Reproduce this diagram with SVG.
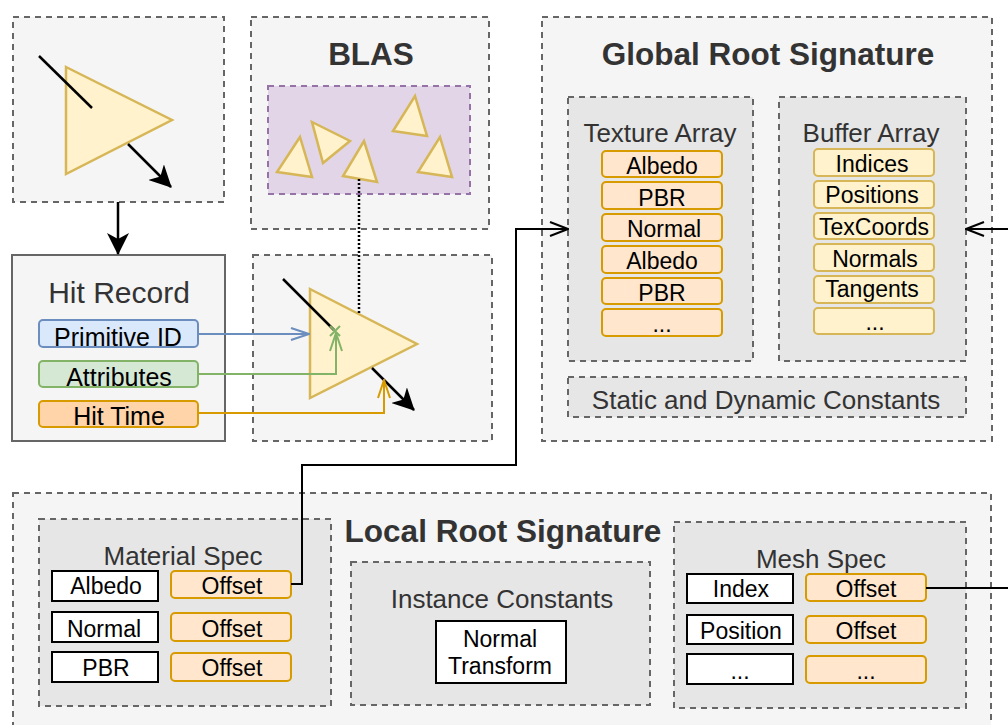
<svg xmlns="http://www.w3.org/2000/svg" width="1008" height="725" viewBox="0 0 1008 725">
<defs>
<style>
text{font-family:"Liberation Sans",Arial,Helvetica,sans-serif;text-anchor:middle}
.box{fill:#f5f5f5;stroke:#666;stroke-width:2;stroke-dasharray:6 5}
.sub{fill:#e6e6e6;stroke:#666;stroke-width:2;stroke-dasharray:6 5}
.ttl{font-weight:bold;font-size:31.5px;fill:#333}
.st{font-size:26px;fill:#333}
.it{font-size:23px;fill:#000}
.hit{font-size:25px;fill:#000}
.tri{fill:#fff2cc;stroke:#d6b656;stroke-width:2.5;stroke-linejoin:miter}
.tex{fill:#ffe6cc;stroke:#d79b00;stroke-width:2}
.buf{fill:#fff2cc;stroke:#d6b656;stroke-width:2}
.wht{fill:#fff;stroke:#000;stroke-width:2}
.ln{fill:none;stroke:#000;stroke-width:2}
.ray{fill:none;stroke:#000;stroke-width:2.5}
</style>
<marker id="classic" viewBox="0 0 22 22" refX="21" refY="11" markerWidth="22" markerHeight="22" orient="auto" markerUnits="userSpaceOnUse">
<path d="M0,0 L22,11 L0,22 L6,11 Z" fill="#000"/>
</marker>
<marker id="openK" viewBox="0 0 20 16" refX="19" refY="8" markerWidth="20" markerHeight="16" orient="auto" markerUnits="userSpaceOnUse">
<path d="M1,1 L19,8 L1,15" fill="none" stroke="#000" stroke-width="2"/>
</marker>
<marker id="openB" viewBox="0 0 20 14" refX="19" refY="7" markerWidth="20" markerHeight="14" orient="auto" markerUnits="userSpaceOnUse">
<path d="M1,1 L19,7 L1,13" fill="none" stroke="#6c8ebf" stroke-width="2"/>
</marker>
<marker id="openG" viewBox="0 0 20 14" refX="19" refY="7" markerWidth="20" markerHeight="14" orient="auto" markerUnits="userSpaceOnUse">
<path d="M1,1 L19,7 L1,13" fill="none" stroke="#82b366" stroke-width="2"/>
</marker>
<marker id="openO" viewBox="0 0 20 14" refX="19" refY="7" markerWidth="20" markerHeight="14" orient="auto" markerUnits="userSpaceOnUse">
<path d="M1,1 L19,7 L1,13" fill="none" stroke="#d79b00" stroke-width="2"/>
</marker>
</defs>
<rect width="1008" height="725" fill="#fff"/>

<g id="ray-box">
<rect class="box" x="13" y="17" width="211" height="185"/>
<polygon class="tri" points="66,67 172,120 66,174"/>
<line class="ray" x1="39" y1="56" x2="92" y2="108"/>
<line class="ray" x1="128" y1="144" x2="171" y2="187" marker-end="url(#classic)"/>
</g>

<g id="blas">
<rect class="box" x="251" y="17" width="238" height="212"/>
<text class="ttl" x="371" y="65">BLAS</text>
<rect x="268" y="86" width="202" height="108" fill="#e1d5e7" stroke="#9673a6" stroke-width="2" stroke-dasharray="6 5"/>
<polygon class="tri" points="300,137 312,177 277,172"/>
<polygon class="tri" points="312,122 350,141 323,163"/>
<polygon class="tri" points="364,141 377,182 343,176"/>
<polygon class="tri" points="415,96 427,136 393,131"/>
<polygon class="tri" points="440,137 452,177 418,172"/>
</g>

<g id="hit-record">
<rect x="12" y="255" width="213" height="186" fill="#f5f5f5" stroke="#666" stroke-width="2"/>
<text x="119" y="303" style="font-size:30px;fill:#333">Hit Record</text>
<rect x="39" y="320" width="159" height="27" rx="4" fill="#dae8fc" stroke="#6c8ebf" stroke-width="2"/>
<text class="hit" x="118" y="346">Primitive ID</text>
<rect x="39" y="361" width="159" height="26" rx="4" fill="#d5e8d4" stroke="#82b366" stroke-width="2"/>
<text class="hit" x="119" y="386">Attributes</text>
<rect x="39" y="401" width="159" height="26" rx="4" fill="#ffd4a8" stroke="#d79b00" stroke-width="2"/>
<text class="hit" x="119" y="425">Hit Time</text>
</g>

<g id="hit-box">
<rect class="box" x="253" y="255" width="239" height="186"/>
<polygon class="tri" points="310,289 417,344 310,398"/>
<line class="ray" x1="283" y1="279" x2="334" y2="330"/>
<line class="ray" x1="372" y1="368" x2="414" y2="410" marker-end="url(#classic)"/>
<path d="M330,326 L340,336 M340,326 L330,336" stroke="#82b366" stroke-width="2" fill="none"/>
</g>

<g id="global-root-signature">
<rect class="box" x="542" y="17" width="450" height="424"/>
<text class="ttl" x="768" y="65">Global Root Signature</text>
<g id="texture-array">
<rect class="sub" x="568" y="97" width="185" height="264"/>
<text class="st" x="660" y="142">Texture Array</text>
<rect class="tex" x="602" y="151" width="120" height="26" rx="4"/><text class="it" x="662" y="174">Albedo</text>
<rect class="tex" x="602" y="182" width="120" height="27" rx="4"/><text class="it" x="662" y="206">PBR</text>
<rect class="tex" x="602" y="214" width="120" height="27" rx="4"/><text class="it" x="664" y="237">Normal</text>
<rect class="tex" x="602" y="246" width="120" height="27" rx="4"/><text class="it" x="662" y="269">Albedo</text>
<rect class="tex" x="602" y="278" width="120" height="26" rx="4"/><text class="it" x="662" y="301">PBR</text>
<rect class="tex" x="602" y="309" width="120" height="27" rx="4"/><text class="it" x="662" y="332">...</text>
</g>
<g id="buffer-array">
<rect class="sub" x="779" y="97" width="187" height="264"/>
<text class="st" x="871" y="142">Buffer Array</text>
<rect class="buf" x="814" y="149" width="120" height="27" rx="4"/><text class="it" x="872" y="172">Indices</text>
<rect class="buf" x="814" y="181" width="120" height="27" rx="4"/><text class="it" x="872" y="203">Positions</text>
<rect class="buf" x="814" y="213" width="120" height="26" rx="4"/><text class="it" x="874" y="235">TexCoords</text>
<rect class="buf" x="814" y="244" width="120" height="27" rx="4"/><text class="it" x="875" y="267">Normals</text>
<rect class="buf" x="814" y="276" width="120" height="27" rx="4"/><text class="it" x="872" y="297">Tangents</text>
<rect class="buf" x="814" y="308" width="120" height="26" rx="4"/><text class="it" x="875" y="330">...</text>
</g>
<g id="static-constants">
<rect class="sub" x="568" y="377" width="398" height="40"/>
<text class="st" x="766" y="409">Static and Dynamic Constants</text>
</g>
</g>

<g id="local-root-signature">
<rect class="box" x="13" y="493" width="978" height="245"/>
<text class="ttl" x="503" y="542">Local Root Signature</text>
<g id="material-spec">
<rect class="sub" x="39" y="519" width="292" height="187"/>
<text class="st" x="183" y="565">Material Spec</text>
<rect class="wht" x="52" y="571" width="106" height="30"/><text class="it" x="106" y="594">Albedo</text>
<rect class="wht" x="52" y="612" width="106" height="30"/><text class="it" x="104" y="637">Normal</text>
<rect class="wht" x="52" y="652" width="106" height="30"/><text class="it" x="106" y="676">PBR</text>
<rect class="tex" x="171" y="571" width="120" height="27" rx="4"/><text class="it" x="232" y="594">Offset</text>
<rect class="tex" x="171" y="613" width="120" height="28" rx="4"/><text class="it" x="232" y="637">Offset</text>
<rect class="tex" x="171" y="653" width="120" height="28" rx="4"/><text class="it" x="232" y="676">Offset</text>
</g>
<g id="instance-constants">
<rect class="sub" x="351" y="562" width="299" height="143"/>
<text class="st" x="502" y="608">Instance Constants</text>
<rect class="wht" x="436" y="621" width="130" height="62"/>
<text class="it" x="500" y="647">Normal</text>
<text class="it" x="500" y="674">Transform</text>
</g>
<g id="mesh-spec">
<rect class="sub" x="674" y="522" width="292" height="186"/>
<text class="st" x="821" y="568">Mesh Spec</text>
<rect class="wht" x="687" y="574" width="106" height="29"/><text class="it" x="741" y="597">Index</text>
<rect class="wht" x="687" y="615" width="106" height="29"/><text class="it" x="741" y="639">Position</text>
<rect class="wht" x="687" y="654" width="106" height="30"/><text class="it" x="740" y="679">...</text>
<rect class="tex" x="806" y="574" width="120" height="27" rx="4"/><text class="it" x="866" y="597">Offset</text>
<rect class="tex" x="806" y="616" width="120" height="27" rx="4"/><text class="it" x="866" y="639">Offset</text>
<rect class="tex" x="806" y="656" width="120" height="27" rx="4"/><text class="it" x="866" y="679">...</text>
</g>
</g>

<g id="connectors">
<line class="ray" x1="118" y1="202" x2="118" y2="254" marker-end="url(#classic)"/>
<line x1="359" y1="179" x2="359" y2="313" stroke="#000" stroke-width="2.5" stroke-dasharray="2 2"/>
<line x1="198" y1="334" x2="309" y2="334" stroke="#6c8ebf" stroke-width="2" marker-end="url(#openB)"/>
<path d="M198,374 H336 V333" fill="none" stroke="#82b366" stroke-width="2" marker-end="url(#openG)"/>
<path d="M198,413 H384 V380" fill="none" stroke="#d79b00" stroke-width="2" marker-end="url(#openO)"/>
<path d="M291,584 H302 V465 H516 V229 H568" class="ln" marker-end="url(#openK)"/>
<path d="M926,588 H1016 V229 H966" class="ln" marker-end="url(#openK)"/>
</g>
</svg>
